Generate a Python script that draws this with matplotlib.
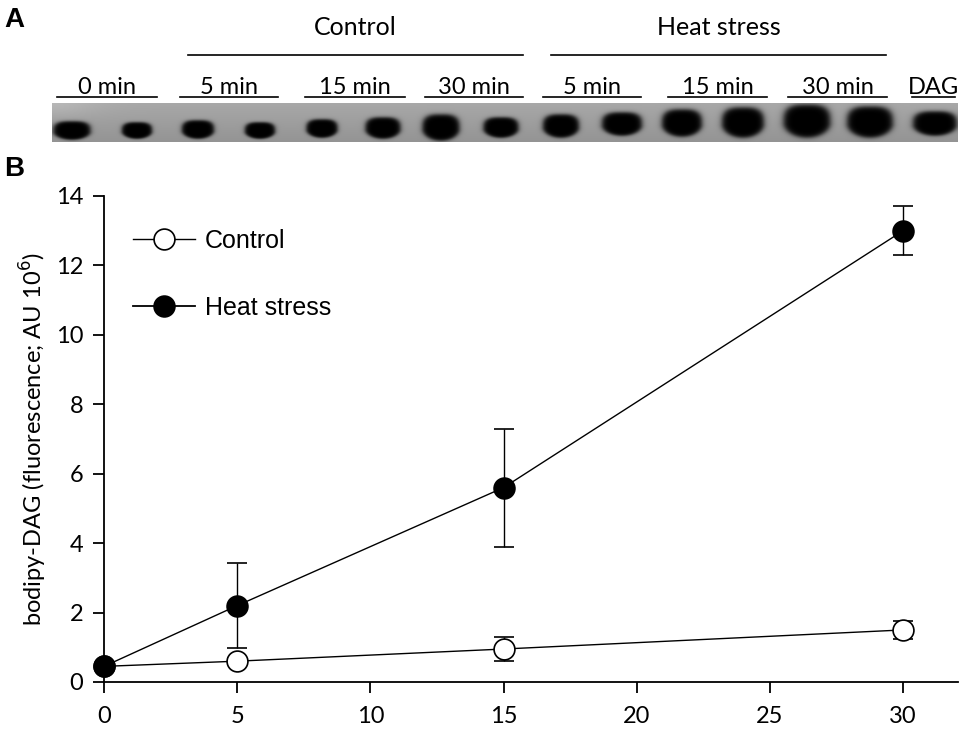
import numpy as np
import matplotlib
matplotlib.use("Agg")
import matplotlib.pyplot as plt
from matplotlib.lines import Line2D

plt.rcParams['font.family'] = ['Liberation Sans', 'DejaVu Sans']

# ---------------- data ----------------
time_min = [0, 5, 15, 30]
control_mean = [0.45, 0.60, 0.95, 1.50]
control_err = [0.05, 0.08, 0.35, 0.27]
heat_mean = [0.45, 2.20, 5.60, 13.00]
heat_err = [0.05, 1.22, 1.70, 0.70]

x_ticks = [0, 5, 10, 15, 20, 25, 30]
y_ticks = [0, 2, 4, 6, 8, 10, 12, 14]

group_labels = ["Control", "Heat stress"]
lane_labels = ["0 min", "5 min", "15 min", "30 min", "5 min", "15 min", "30 min", "DAG"]
# band sizes on the TLC plate (width, top, bottom in px)
band_width = [38, 31, 33, 31, 32, 36, 38, 36, 37, 41, 41, 43, 48, 47, 45]
band_top = [121, 122, 120, 122, 119, 117, 114, 117, 114, 112, 109, 107, 104, 106, 111]
band_bottom = [140, 139, 139, 139, 138, 139, 141, 138, 138, 136, 137, 138, 138, 138, 136]

# layout (pixel positions)
lane_cx = [72, 137, 198, 260, 322, 383, 441, 501, 561, 622, 682, 743, 807, 870, 935]
label_spans = [(57, 157), (180, 278), (305, 405), (425, 523), (543, 641), (668, 767), (788, 887), (912, 955)]
group_spans = [(188, 523), (551, 886)]

W, H = 970, 737
fig = plt.figure(figsize=(W / 100, H / 100), dpi=100)

# ---------------- panel A ----------------
axA = fig.add_axes([0, 0, 1, 1])
axA.set_xlim(0, W)
axA.set_ylim(H, 0)
axA.axis('off')

gx0, gx1, gy0, gy1 = 52, 958, 103, 142
sc = 3
nx, ny = (gx1 - gx0) * sc, (gy1 - gy0) * sc
xs = gx0 + (np.arange(nx) + 0.5) / sc
ys = gy0 + (np.arange(ny) + 0.5) / sc
X, Y = np.meshgrid(xs, ys)
bg = 0.66 - 0.08 * (Y - gy0) / (gy1 - gy0)
bg = bg + 0.06 * np.exp(-((X - gx0) / 45) ** 2 - ((Y - gy0) / 14) ** 2)
dark = np.zeros_like(X)
for cx, w, t, b in zip(lane_cx, band_width, band_top, band_bottom):
    cy = t + (b - t) * 0.55
    dx = np.abs(X - cx) / (w / 2)
    up = Y < cy
    dy = np.where(up, (cy - Y) / (cy - t), (Y - cy) / (b - cy))
    r = np.where(up, (dx ** 3 + dy ** 3) ** (1 / 3), np.sqrt(dx ** 2 + dy ** 2))
    d = 1 / (1 + np.exp((r - 0.97) / 0.08))
    dark = np.maximum(dark, d)
img = bg * (1 - dark)
axA.imshow(img, cmap='gray', vmin=0, vmax=1, extent=(gx0, gx1, gy1, gy0),
           aspect='auto', interpolation='bilinear', zorder=1)

axA.text(4, 20, "A", fontsize=20, fontweight='bold', ha='left', va='center')
axA.text(4, 169, "B", fontsize=20, fontweight='bold', ha='left', va='center')

for lab, (a, b) in zip(group_labels, group_spans):
    axA.plot([a, b], [55, 55], color='black', lw=1.2)
    axA.text((a + b) / 2, 35, lab, fontsize=18, family='Lato', ha='center', va='baseline')
for lab, (a, b) in zip(lane_labels, label_spans):
    axA.plot([a, b], [97, 97], color='black', lw=1.2)
    axA.text((a + b) / 2, 94, lab, fontsize=17, family='Lato', ha='center', va='baseline')

# ---------------- panel B ----------------
left, right, top, bottom = 104, 958, 196, 682
ax = fig.add_axes([left / W, 1 - bottom / H, (right - left) / W, (bottom - top) / H])
ax.set_xlim(0, 32.06)
ax.set_ylim(0, 14)
for s in ['top', 'right']:
    ax.spines[s].set_visible(False)
for s in ['left', 'bottom']:
    ax.spines[s].set_linewidth(1.3)
ax.set_xticks(x_ticks)
ax.set_yticks(y_ticks)
ax.tick_params(direction='out', length=8, width=1.3, labelsize=17)
ax.tick_params(axis='x', pad=9)
ax.tick_params(axis='y', pad=7)
for lab in ax.get_xticklabels() + ax.get_yticklabels():
    lab.set_family('Lato')

ax.errorbar(time_min, control_mean, yerr=control_err, color='black', lw=1,
            elinewidth=1, capsize=7, capthick=1.5, marker='o', ms=15,
            mfc='white', mec='black', mew=1.2, clip_on=False, zorder=3)
ax.errorbar(time_min, heat_mean, yerr=heat_err, color='black', lw=1,
            elinewidth=1, capsize=7, capthick=1, marker='o', ms=15,
            mfc='black', mec='black', mew=1.2, clip_on=False, zorder=4)

handles = [
    Line2D([], [], color='black', lw=1, marker='o', ms=15, mfc='white', mec='black', mew=1.2),
    Line2D([], [], color='black', lw=1.3, marker='o', ms=15, mfc='black', mec='black', mew=1.2),
]
leg = ax.legend(handles, group_labels, loc='upper left', bbox_to_anchor=(0.034, 0.933),
                frameon=False, fontsize=18, handlelength=2.48, labelspacing=1.72,
                handletextpad=0.4, borderaxespad=0, borderpad=0)

ax.set_ylabel("bodipy-DAG (fluorescence; AU 10$^6$)", fontsize=17, family='Lato', labelpad=5)

fig.savefig("out.png", dpi=100)
